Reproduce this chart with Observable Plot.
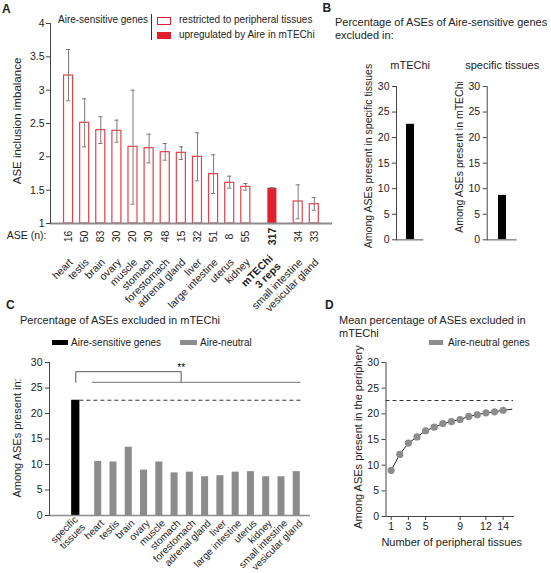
<!DOCTYPE html>
<html><head><meta charset="utf-8">
<script src="https://cdn.jsdelivr.net/npm/d3@7"></script>
<script src="https://cdn.jsdelivr.net/npm/@observablehq/plot@0.6"></script>
<style>
html,body{margin:0;padding:0;background:#fff;}
#fig{position:relative;width:551px;height:573px;overflow:hidden;font-family:"Liberation Sans",Arial,sans-serif;color:#222;background:#fff;}
#fig svg{position:absolute;}
.t{position:absolute;white-space:pre;line-height:1;}
.b{position:absolute;box-sizing:border-box;}
</style></head><body><div id="fig"></div>
<script>
// ---------- Panel A data ----------
const tissuesA = ["heart","testis","brain","ovary","muscle","stomach","forestomach","adrenal gland","liver","large intestine","uterus","kidney","mTEChi\n3 reps","small intestine","vesicular gland"];
const imbalanceA = [3.22,2.51,2.40,2.39,2.15,2.13,2.07,2.06,2.00,1.74,1.61,1.55,1.53,1.33,1.29];
const errLowA  = [2.84,2.15,2.20,2.22,1.29,1.91,1.95,1.96,1.64,1.45,1.53,1.50,1.52,1.07,1.20];
const errHighA = [3.61,2.87,2.60,2.55,3.00,2.34,2.20,2.15,2.36,2.03,1.71,1.60,1.54,1.58,1.39];
const aseCountA = [16,50,83,30,20,30,48,15,32,51,8,55,317,34,33];
const yTicksA = [1,1.5,2,2.5,3,3.5,4];

// ---------- Panel B data ----------
const excludedInB = ["mTEChi","specific tissues"];
const percentB = [22.6, 8.7];
const yLabelsB = ["Among ASEs present in specific tissues","Among ASEs present in mTEChi"];

// ---------- Panel C data ----------
const SENS = "Aire-sensitive genes", NEUT = "Aire-neutral";
const tissuesC = ["specific\ntissues","heart","testis","brain","ovary","muscle","stomach","forestomach","adrenal gland","liver","large intestine","uterus","kidney","small intestine","vesicular gland"];
const groupsC = [SENS, NEUT, NEUT, NEUT, NEUT, NEUT, NEUT, NEUT, NEUT, NEUT, NEUT, NEUT, NEUT, NEUT, NEUT];
const percentC = [22.6,10.6,10.5,13.4,8.9,10.5,8.35,8.5,7.6,7.8,8.5,8.6,7.6,7.6,8.6];

// ---------- Panel D data ----------
const nTissuesD = [1,2,3,4,5,6,7,8,9,10,11,12,13,14,15];
const meanPercentD = [9.0,12.1,14.3,15.5,16.7,17.4,18.1,18.5,18.9,19.5,19.8,20.2,20.4,20.7,20.9];
const xTicksD = [1,3,5,9,12,14];
const pctTicks = [0,5,10,15,20,25,30];

const RED = "#e3202a";
const GRAY = "#8c8c8c";
const AXIS = "#444";
const INK = "#222";
const FONT = '"Liberation Sans", Arial, sans-serif';
const ST = {fontFamily: FONT, fontSize: "10.5px", color: INK, background: "transparent", overflow: "visible"};
const fig = document.getElementById("fig");

function place(svg, left, top) { svg.style.left = left + "px"; svg.style.top = top + "px"; fig.appendChild(svg); }
function txt(str, x, y, o = {}) {
  const d = document.createElement("div");
  d.className = "t"; d.textContent = str;
  d.style.fontSize = (o.size || 11) + "px";
  d.style.fontWeight = o.weight || "normal";
  d.style.left = x + "px"; d.style.top = y + "px";
  const tx = o.anchor === "middle" ? "-50%" : o.anchor === "end" ? "-100%" : "0";
  d.style.transform = `translate(${tx},-50%)` + (o.rotate ? ` rotate(${o.rotate}deg)` : "");
  fig.appendChild(d);
}
function box(x, y, w, h, css) {
  const d = document.createElement("div");
  d.className = "b";
  Object.assign(d.style, {left: x + "px", top: y + "px", width: w + "px", height: h + "px"}, css);
  fig.appendChild(d);
}

// ---------- Panel A ----------
const mi = tissuesA.findIndex(t => t.startsWith("mTEChi"));
const rowsA = tissuesA.map((t, i) => ({
  tissue: t, value: imbalanceA[i], lo: errLowA[i], hi: errHighA[i], n: aseCountA[i],
  upreg: i === mi, pos: i + (i >= mi ? 0.65 : 0) + (i > mi ? 0.6 : 0)
}));
const normA = rowsA.filter(d => !d.upreg), upA = rowsA.filter(d => d.upreg);
const hw = 0.28, cap = 0.13;
const plotA = Plot.plot({
  width: 340, height: 300, marginLeft: 50, marginRight: 8, marginTop: 23, marginBottom: 77,
  style: ST,
  x: {type: "linear", domain: [-1.12, 16.38], axis: null},
  y: {domain: [1, 4]},
  marks: [
    Plot.axisY({ticks: yTicksA, tickSize: 4, tickPadding: 2, label: null, tickFormat: d => String(d), stroke: AXIS}),
    Plot.rect(normA, {x1: d => d.pos - hw, x2: d => d.pos + hw, y1: 1, y2: "value", fill: "white", stroke: RED, strokeWidth: 1.2, strokeOpacity: 0.85}),
    Plot.rect(upA, {x1: d => d.pos - hw, x2: d => d.pos + hw, y1: 1, y2: "value", fill: RED}),
    Plot.ruleX(rowsA, {x: "pos", y1: "lo", y2: "hi", stroke: "#7a7a7a", strokeWidth: 1}),
    Plot.ruleY(rowsA, {y: "lo", x1: d => d.pos - cap, x2: d => d.pos + cap, stroke: "#7a7a7a"}),
    Plot.ruleY(rowsA, {y: "hi", x1: d => d.pos - cap, x2: d => d.pos + cap, stroke: "#7a7a7a"}),
    Plot.ruleY([1], {stroke: GRAY, strokeWidth: 2}),
    Plot.frame({anchor: "left", stroke: AXIS}),
    Plot.text(["ASE (n):"], {frameAnchor: "bottom-left", dx: -4, dy: 15, textAnchor: "end", fontSize: 10.5, fill: INK}),
    Plot.text(normA, {x: "pos", y: 1, dy: 13, text: d => String(d.n), rotate: -90, fontSize: 10.5, fill: INK}),
    Plot.text(upA, {x: "pos", y: 1, dy: 13, text: d => String(d.n), rotate: -90, fontSize: 10.5, fontWeight: "bold", fill: INK}),
    Plot.text(normA, {x: "pos", y: 1, dx: 2.5, dy: 37, text: "tissue", rotate: -45, textAnchor: "end", fontSize: 10.5, fill: INK}),
    Plot.text(upA, {x: "pos", y: 1, dx: 2.5, dy: 37, text: "tissue", rotate: -45, textAnchor: "end", fontSize: 10.5, fontWeight: "bold", lineHeight: 1.05, fill: INK})
  ]
});
place(plotA, 0, 0);

// ---------- Panel B ----------
const bLayout = [
  {left: 340, width: 90, ml: 56, mr: 6.7, pad: 0.55},
  {left: 430, width: 100, ml: 56.7, mr: 13.3, pad: 0.58}
];
excludedInB.forEach((k, i) => {
  const L = bLayout[i];
  const p = Plot.plot({
    width: L.width, height: 190, marginLeft: L.ml, marginRight: L.mr, marginTop: 26, marginBottom: 10.7,
    style: ST,
    x: {domain: [k], padding: L.pad, axis: null},
    y: {domain: [0, 30]},
    marks: [
      Plot.axisY({ticks: pctTicks, tickSize: 4, tickPadding: 3, label: null, stroke: AXIS}),
      Plot.barY([{k, v: percentB[i]}], {x: "k", y: "v", fill: "black"}),
      Plot.ruleY([0], {stroke: GRAY, strokeWidth: 1.5}),
      Plot.frame({anchor: "left", stroke: AXIS}),
      Plot.text([k], {frameAnchor: "top", dy: -25, fontSize: 11, fill: INK})
    ]
  });
  place(p, L.left, 60);
});

// ---------- Panel C ----------
const rowsC = tissuesC.map((t, i) => ({tissue: t, value: percentC[i], group: groupsC[i], pos: i + (i > 0 ? 0.47 : 0)}));
const halfC = d => d.group === SENS ? 0.27 : 0.23;
const refC = rowsC[0];
const lastC = rowsC[rowsC.length - 1];
const plotC = Plot.plot({
  width: 340, height: 273, marginLeft: 49, marginRight: 30, marginTop: 62, marginBottom: 58,
  style: ST,
  x: {type: "linear", domain: [-1.72, 15.37], axis: null},
  y: {domain: [0, 30]},
  color: {domain: [SENS, NEUT], range: ["#000", GRAY]},
  marks: [
    Plot.axisY({ticks: pctTicks, tickSize: 4, tickPadding: 3, label: null, stroke: AXIS}),
    Plot.rect(rowsC, {x1: d => d.pos - halfC(d), x2: d => d.pos + halfC(d), y1: 0, y2: "value", fill: "group"}),
    Plot.ruleY([refC.value], {x1: refC.pos + 0.27, x2: lastC.pos + 0.3, stroke: "#333", strokeDasharray: "4,3"}),
    Plot.line([[refC.pos, 26.1], [refC.pos, 28.2], [6.9, 28.2], [6.9, 26.1]], {x: d => d[0], y: d => d[1], stroke: "#555", strokeWidth: 1}),
    Plot.ruleY([26.1], {x1: 1.1, x2: lastC.pos + 0.28, stroke: GRAY, strokeWidth: 1.2}),
    Plot.text(["**"], {x: 6.9, y: 28.2, dy: -4, fontSize: 10, fill: "#000"}),
    Plot.ruleY([0], {stroke: GRAY, strokeWidth: 1.5}),
    Plot.frame({anchor: "left", stroke: AXIS}),
    Plot.text(rowsC, {x: "pos", y: 0, dx: 4, dy: 6, text: "tissue", rotate: -45, textAnchor: "end", fontSize: 10, lineHeight: 1.05, fill: INK})
  ]
});
place(plotC, 0, 300);

// ---------- Panel D ----------
const rowsD = nTissuesD.map((n, i) => ({n, v: meanPercentD[i]}));
const plotD = Plot.plot({
  width: 211, height: 273, marginLeft: 45.5, marginRight: 38, marginTop: 62, marginBottom: 57,
  style: ST,
  x: {domain: [0.4, 15.2]},
  y: {domain: [0, 30]},
  marks: [
    Plot.axisY({ticks: pctTicks, tickSize: 4, tickPadding: 3, label: null, stroke: AXIS}),
    Plot.axisX({ticks: xTicksD, tickSize: 4, tickPadding: 2, label: null, stroke: AXIS}),
    Plot.ruleY([percentC[0]], {stroke: "#333", strokeDasharray: "4,3"}),
    Plot.line(rowsD, {x: "n", y: "v", stroke: "#222", strokeWidth: 1}),
    Plot.dot(rowsD.slice(0, 14), {x: "n", y: "v", r: 3.6, fill: GRAY, stroke: "none"}),
    Plot.frame({anchor: "left", stroke: AXIS}),
    Plot.frame({anchor: "bottom", stroke: AXIS})
  ]
});
place(plotD, 340, 300);

// ---------- Titles, legends, axis labels ----------
txt("A", 2, 8.5, {size: 12, weight: "bold"});
txt("B", 322.5, 7.5, {size: 12, weight: "bold"});
txt("C", 6, 305, {size: 12, weight: "bold"});
txt("D", 325, 305, {size: 12, weight: "bold"});

// A legend
txt("Aire-sensitive genes", 58, 20, {size: 10});
box(151, 13.5, 1, 26, {background: "#333"});
box(157, 16.5, 14, 8, {border: "1.5px solid " + RED, background: "#fff"});
txt("restricted to peripheral tissues", 179, 20, {size: 10});
box(157, 32, 14, 7, {background: RED});
txt("upregulated by Aire in mTEChi", 179, 35, {size: 10});
txt("ASE inclusion imbalance", 18.3, 121, {size: 11.5, anchor: "middle", rotate: -90});

// B
txt("Percentage of ASEs of Aire-sensitive genes", 335, 22, {size: 11});
txt("excluded in:", 335, 34.5, {size: 11});
txt(yLabelsB[0], 368.3, 156, {size: 10.5, anchor: "middle", rotate: -90});
txt(yLabelsB[1], 459.3, 157, {size: 10.5, anchor: "middle", rotate: -90});

// C
txt("Percentage of ASEs excluded in mTEChi", 20, 320, {size: 11});
box(51.7, 340, 16.6, 5, {background: "#000"});
txt(SENS, 71, 342.5, {size: 10});
box(180, 340, 16.6, 5, {background: GRAY});
txt(NEUT, 200, 342.5, {size: 10});
txt("Among ASEs present in:", 17, 438, {size: 11, anchor: "middle", rotate: -90});

// D
txt("Mean percentage of ASEs excluded in", 339, 320, {size: 11});
txt("mTEChi", 339, 333, {size: 11});
box(429.3, 340, 13.4, 5, {background: GRAY});
txt("Aire-neutral genes", 448, 342.5, {size: 10});
txt("Among ASEs present in the periphery", 358, 437, {size: 11, anchor: "middle", rotate: -90});
txt("Number of peripheral tissues", 451.7, 542.3, {size: 11, anchor: "middle"});
</script></body></html>
